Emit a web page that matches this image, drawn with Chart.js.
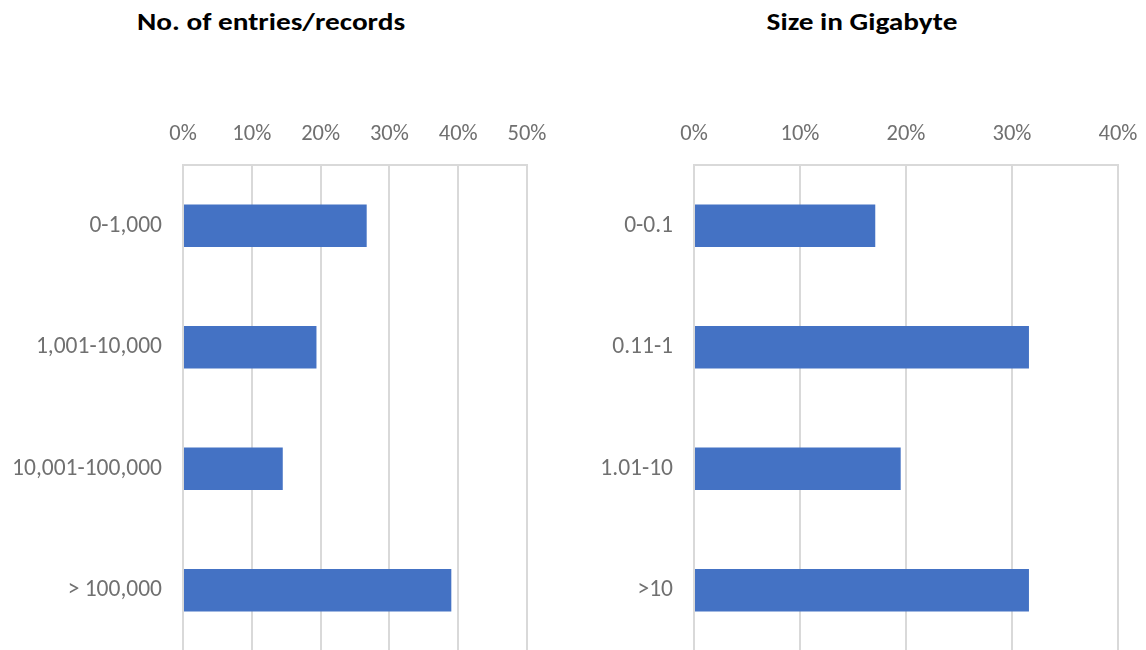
<!DOCTYPE html>
<html>
<head>
<meta charset="utf-8">
<script src="https://cdn.jsdelivr.net/npm/chart.js@4"></script>
<style>
  html, body { margin: 0; padding: 0; background: #fff; overflow: hidden; }
  body { width: 1146px; height: 650px; position: relative; }
  .title { position: absolute; top: 8px; font-family: Carlito, Lato, "Open Sans", sans-serif; font-weight: bold; font-size: 24px; line-height: 1.2; color: #000; white-space: nowrap; transform: translateX(-50%) scaleX(1.22); transform-origin: center; }
  .wrap { position: absolute; top: 0; width: 573px; height: 686px; }
</style>
</head>
<body>
<div class="title" style="left:271px">No. of entries/records</div>
<div class="title" style="left:862px">Size in Gigabyte</div>
<div class="wrap" style="left:0"><canvas id="c1"></canvas></div>
<div class="wrap" style="left:573px"><canvas id="c2"></canvas></div>
<script>
const entriesLabels = ['0-1,000', '1,001-10,000', '10,001-100,000', '> 100,000'];
const entriesValues = [26.7, 19.4, 14.5, 39.0];
const entriesMax = 50;

const sizeLabels = ['0-0.1', '0.11-1', '1.01-10', '>10'];
const sizeValues = [17.1, 31.6, 19.5, 31.6];
const sizeMax = 40;

const tickStep = 10;
const barColor = '#4472C4';
const gridColor = '#d9d9d9';
const tickColor = '#707070';
const xTickFont = { family: 'Carlito, Lato, "Open Sans", sans-serif', size: 22.5 };
const yTickFont = { family: 'Carlito, Lato, "Open Sans", sans-serif', size: 23.5 };

function makeChart(id, labels, values, max, axisWidth, padRight) {
  return new Chart(document.getElementById(id), {
    type: 'bar',
    data: {
      labels: labels,
      datasets: [{
        data: values,
        backgroundColor: barColor,
        borderWidth: 0,
        barPercentage: 0.35,
        categoryPercentage: 1.0
      }]
    },
    options: {
      indexAxis: 'y',
      responsive: true,
      maintainAspectRatio: false,
      animation: false,
      layout: { padding: { left: 0, right: padRight, top: 0, bottom: 0 } },
      plugins: { legend: { display: false }, tooltip: { enabled: false }, title: { display: false } },
      scales: {
        x: {
          position: 'top',
          min: 0,
          max: max,
          ticks: {
            stepSize: tickStep,
            color: tickColor,
            font: xTickFont,
            padding: 0,
            callback: v => v + '%'
          },
          grid: { color: gridColor, lineWidth: 2, drawTicks: true, tickLength: 17, tickColor: 'rgba(0,0,0,0)' },
          border: { display: true, color: gridColor, width: 2 },
          afterFit: s => { s.height = 165; }
        },
        y: {
          ticks: { color: tickColor, font: yTickFont, padding: 21 },
          grid: { display: false, drawTicks: false },
          border: { display: false },
          afterFit: s => { s.width = axisWidth; }
        }
      }
    }
  });
}

makeChart('c1', entriesLabels, entriesValues, entriesMax, 183, 46);
makeChart('c2', sizeLabels, sizeValues, sizeMax, 121, 28);
</script>
</body>
</html>
